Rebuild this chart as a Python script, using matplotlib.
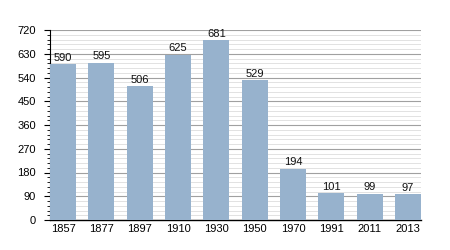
import matplotlib
matplotlib.use("Agg")
import matplotlib.pyplot as plt
from matplotlib.ticker import MultipleLocator

plt.rcParams['font.family'] = ['Liberation Sans', 'DejaVu Sans']

years = ["1857", "1877", "1897", "1910", "1930", "1950", "1970", "1991", "2011", "2013"]
values = [590, 595, 506, 625, 681, 529, 194, 101, 99, 97]

fig = plt.figure(figsize=(4.5, 2.5), dpi=100)
ax = fig.add_axes([50/450, 30/250, 371/450, 190/250])

x = list(range(len(years)))
ax.bar(x, values, width=0.68, color="#97b2cd", zorder=3)
for xi, v in zip(x, values):
    ax.text(xi, v + 6, str(v), ha="center", va="bottom", fontsize=8, color="#111111", zorder=4)

ax.set_xlim(-0.34, len(years) - 1 + 0.34)
ax.set_ylim(0, 720)
ax.yaxis.set_major_locator(MultipleLocator(90))
ax.yaxis.set_minor_locator(MultipleLocator(18))
ax.grid(axis="y", which="major", color="#a0a0a0", linewidth=0.8, zorder=1)
ax.grid(axis="y", which="minor", color="#dddddd", linewidth=0.6, zorder=1)
ax.set_xticks(x)
ax.set_xticklabels(years)
ax.tick_params(axis="x", length=0, labelsize=8, pad=3)
ax.tick_params(axis="y", which="major", length=4, labelsize=8, direction="out", pad=6)
ax.tick_params(axis="y", which="minor", length=2, direction="out")
for s in ["top", "right"]:
    ax.spines[s].set_visible(False)
ax.spines["left"].set_linewidth(0.8)
ax.spines["bottom"].set_linewidth(1.0)

fig.savefig("out.png", dpi=100)
